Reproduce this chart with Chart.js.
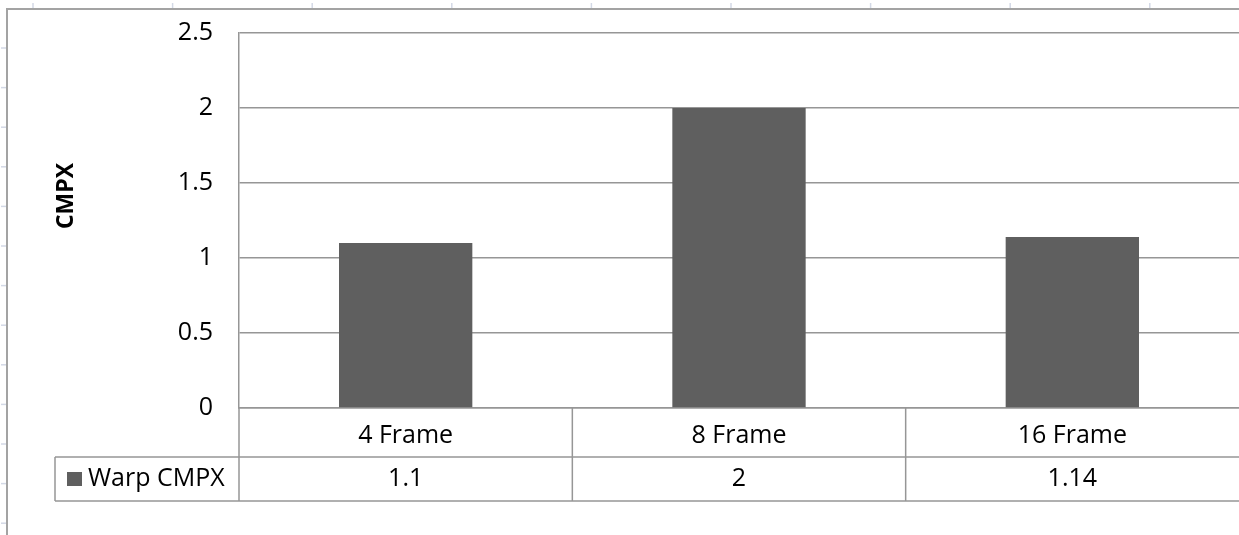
<!DOCTYPE html>
<html>
<head>
<meta charset="utf-8">
<script src="https://cdn.jsdelivr.net/npm/chart.js@4/dist/chart.umd.min.js"></script>
<style>
  html, body { margin: 0; padding: 0; background: #fff; overflow: hidden; }
  canvas { display: block; }
</style>
</head>
<body>
<canvas id="c" width="1239" height="535"></canvas>
<script>
// Chart data
const categories = ['4 Frame', '8 Frame', '16 Frame'];
const warpCmpx = [1.1, 2, 1.14];
const seriesName = 'Warp CMPX';
const yAxisTitle = 'CMPX';
const yTicks = [0, 0.5, 1, 1.5, 2, 2.5];

const FONT = '"Open Sans", "DejaVu Sans", sans-serif';
const FONT_SIZE = 25;
const LINE = '#969696';
const BAR = '#5f5f5f';

// Frame around the chart object plus faint sheet gridline stubs behind it
const sheetFrame = {
  id: 'sheetFrame',
  beforeDraw(chart) {
    const { ctx, width, height } = chart;
    ctx.save();
    ctx.strokeStyle = '#d3d9e6';
    ctx.lineWidth = 1.5;
    for (let x = 33; x < width; x += 139.6) {
      ctx.beginPath(); ctx.moveTo(x, 3); ctx.lineTo(x, 9); ctx.stroke();
    }
    for (let y = 48; y < height; y += 39.6) {
      ctx.beginPath(); ctx.moveTo(1, y); ctx.lineTo(7, y); ctx.stroke();
    }
    ctx.strokeStyle = '#a3a3a3';
    ctx.lineWidth = 2;
    ctx.beginPath();
    ctx.moveTo(7, height); ctx.lineTo(7, 9); ctx.lineTo(width, 9);
    ctx.stroke();
    ctx.restore();
  }
};

// Data table under the category axis, with the axis title on the left
const dataTable = {
  id: 'dataTable',
  afterDraw(chart) {
    const { ctx, chartArea: a, scales: { x } } = chart;
    const half = (x.getPixelForValue(1) - x.getPixelForValue(0)) / 2;
    const rowTop = a.bottom + 49;
    const rowBottom = rowTop + 44;
    const legendLeft = 55;
    const rowMid = (rowTop + rowBottom) / 2;

    ctx.save();
    ctx.strokeStyle = LINE;
    ctx.lineWidth = 1.5;
    ctx.beginPath();
    // left edge continues down through the table
    ctx.moveTo(a.left, a.bottom); ctx.lineTo(a.left, rowBottom);
    // row separators
    ctx.moveTo(legendLeft, rowTop); ctx.lineTo(a.right, rowTop);
    ctx.moveTo(legendLeft, rowBottom); ctx.lineTo(a.right, rowBottom);
    ctx.moveTo(legendLeft, rowTop); ctx.lineTo(legendLeft, rowBottom);
    // column separators between categories
    for (let i = 0; i < categories.length - 1; i++) {
      const px = x.getPixelForValue(i) + half;
      ctx.moveTo(px, a.bottom); ctx.lineTo(px, rowBottom);
    }
    ctx.stroke();

    // series row
    ctx.fillStyle = '#000';
    ctx.font = FONT_SIZE + 'px ' + FONT;
    ctx.textBaseline = 'middle';
    ctx.textAlign = 'center';
    warpCmpx.forEach((v, i) => {
      ctx.fillText(String(v), x.getPixelForValue(i), rowMid);
    });
    ctx.fillStyle = BAR;
    ctx.fillRect(67, rowMid - 7, 15, 14);
    ctx.fillStyle = '#000';
    ctx.textAlign = 'left';
    ctx.fillText(seriesName, 88, rowMid);

    // value axis title
    ctx.translate(66, 196);
    ctx.rotate(-Math.PI / 2);
    ctx.font = 'bold 23px ' + FONT;
    ctx.textAlign = 'center';
    ctx.fillText(yAxisTitle, 0, 0);
    ctx.restore();
  }
};

new Chart(document.getElementById('c'), {
  type: 'bar',
  data: {
    labels: categories,
    datasets: [{
      label: seriesName,
      data: warpCmpx,
      backgroundColor: BAR,
      borderWidth: 0,
      barPercentage: 0.4,
      categoryPercentage: 1
    }]
  },
  options: {
    responsive: false,
    devicePixelRatio: 1,
    animation: false,
    events: [],
    layout: { padding: { top: 33, left: 0, right: 0, bottom: 0 } },
    plugins: {
      legend: { display: false },
      tooltip: { enabled: false }
    },
    scales: {
      x: {
        grid: { display: false },
        border: { display: true, color: LINE, width: 1.5 },
        ticks: {
          color: '#000',
          font: { family: FONT, size: FONT_SIZE },
          padding: 5,
          maxRotation: 0
        },
        afterFit(scale) { scale.height = 127; }
      },
      y: {
        min: 0,
        max: 2.5,
        afterBuildTicks(scale) { scale.ticks = yTicks.map(v => ({ value: v })); },
        grid: { color: LINE, lineWidth: 1.5, drawTicks: false },
        border: { display: true, color: LINE, width: 1.5 },
        ticks: {
          color: '#000',
          font: { family: FONT, size: FONT_SIZE },
          padding: 26,
          callback: v => String(v)
        },
        afterFit(scale) {
          scale.width = 239;
          scale.paddingTop = 0;
          scale.paddingBottom = 0;
        }
      }
    }
  },
  plugins: [sheetFrame, dataTable]
});
</script>
</body>
</html>
